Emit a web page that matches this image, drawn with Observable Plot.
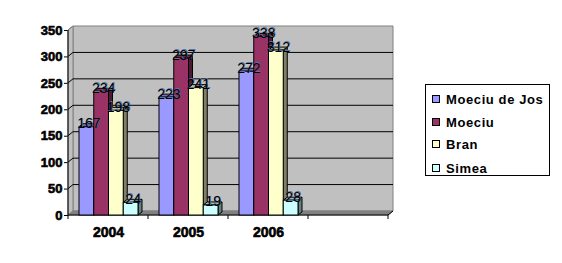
<!DOCTYPE html>
<html><head><meta charset="utf-8">
<script src="https://cdn.jsdelivr.net/npm/d3@7"></script>
<script src="https://cdn.jsdelivr.net/npm/@observablehq/plot@0.6"></script>
<style>
body{margin:0;background:#fff;}
#wrap{position:relative;width:562px;height:263px;font-family:Arial,"Liberation Sans",sans-serif;}
#wrap svg{position:absolute;left:0;top:0;}
#legend{position:absolute;left:425px;top:84px;width:123px;height:90px;border:1px solid #000;background:#fff;}
.item{position:absolute;left:6px;height:16px;display:flex;align-items:center;font-weight:bold;font-size:13px;letter-spacing:0.6px;white-space:nowrap;}
.sw{width:6px;height:6px;border:1px solid #000;margin-right:6px;}
</style></head><body><div id="wrap"></div>
<script>
const years = ["2004", "2005", "2006", ""];
const series = ["Moeciu de Jos", "Moeciu", "Bran", "Simea"];
const moeciuDeJos = [167, 223, 272];
const moeciu = [234, 297, 338];
const bran = [198, 241, 312];
const simea = [24, 19, 28];
const yTicks = [0, 50, 100, 150, 200, 250, 300, 350];
const frontColors = ["#9999FF", "#993366", "#FFFFCC", "#CCFFFF"];
const sideColors = ["#4D4D80", "#4D1A33", "#808066", "#668080"];
const topColors = ["#7373BF", "#732648", "#BFBF99", "#99BFBF"];

const seriesValues = [moeciuDeJos, moeciu, bran, simea];
const data = series.flatMap((s, i) => seriesValues[i].map((v, j) => ({year: years[j], series: s, si: i, value: v})));

const W = 562, H = 263, ML = 68, MR = 174, MT = 30, MB = 48;
const BW = (W - ML - MR) / years.length;
const BAR_IN = 11, BAR_W = 14.75, DX = 4, DY = 3, WX = 5, WY = 4;

function poly(g, pts, fill, stroke) {
  g.append("polygon").attr("points", pts.map(p => p.join(",")).join(" "))
    .attr("fill", fill).attr("stroke", stroke || "none").attr("stroke-width", 1);
}
function line(g, x1, y1, x2, y2, stroke) {
  g.append("line").attr("x1", x1).attr("y1", y1).attr("x2", x2).attr("y2", y2)
    .attr("stroke", stroke).attr("stroke-width", 1);
}

// 3D walls, floor, gridlines and category boundary ticks, positioned with Plot's scales
function walls(index, scales) {
  const g = d3.create("svg:g");
  const x0 = scales.x(years[0]);
  const bw = scales.x(years[1]) - scales.x(years[0]);
  const x1 = scales.x(years[years.length - 1]) + bw;
  const y0 = scales.y(0), yt = scales.y(yTicks[yTicks.length - 1]);
  poly(g, [[x0 + WX, yt - WY], [x1 + WX, yt - WY], [x1 + WX, y0 - WY], [x0 + WX, y0 - WY]], "#C0C0C0", "#808080");
  poly(g, [[x0, yt], [x0 + WX, yt - WY], [x0 + WX, y0 - WY], [x0, y0]], "#C0C0C0", "#808080");
  poly(g, [[x0, y0], [x0 + WX, y0 - WY], [x1 + WX, y0 - WY], [x1, y0]], "#808080", "#808080");
  for (const t of yTicks) {
    if (t === 0 || t === yTicks[yTicks.length - 1]) continue;
    const y = scales.y(t);
    line(g, x0 + WX, y - WY, x1 + WX, y - WY, "#000");
    line(g, x0, y, x0 + WX, y - WY, "#000");
  }
  line(g, x0, yt, x0 + WX, yt - WY, "#808080");
  line(g, x0, y0 + 0.5, x0, yt, "#000");
  line(g, x0, y0, x1, y0, "#000");
  line(g, x1, y0, x1 + WX, y0 - WY, "#000");
  for (let j = 0; j <= years.length; j++) {
    const x = j < years.length ? scales.x(years[j]) : x1;
    line(g, x, y0, x, y0 + 4, "#000");
  }
  return g.node();
}

// side and top faces of the 3D bars
function barDepth(index, scales) {
  const g = d3.create("svg:g");
  const y0 = scales.y(0);
  for (const d of data) {
    const xa = scales.x(d.year) + BAR_IN + d.si * BAR_W;
    const xb = xa + BAR_W;
    const y = scales.y(d.value);
    poly(g, [[xb, y], [xb + DX, y - DY], [xb + DX, y0 - DY], [xb, y0]], sideColors[d.si], "#000");
    poly(g, [[xa, y], [xa + DX, y - DY], [xb + DX, y - DY], [xb, y]], topColors[d.si], "#000");
  }
  return g.node();
}

const fronts = series.map((s, i) => Plot.barY(data.filter(d => d.si === i), {
  x: "year", y: "value", fill: frontColors[i], stroke: "#000", strokeWidth: 1,
  insetLeft: BAR_IN + i * BAR_W, insetRight: BW - BAR_IN - (i + 1) * BAR_W
}));
const labelDx = i => BAR_IN + i * BAR_W + BAR_W / 2 - BW / 2 + 2;
const labelShadows = series.map((s, i) => Plot.text(data.filter(d => d.si === i), {
  x: "year", y: "value", text: d => String(d.value),
  dx: labelDx(i) + 0.7, dy: 0.3,
  lineAnchor: "bottom", fill: "#5577AA", fontSize: 14, fontWeight: "normal"
}));
const labels = series.map((s, i) => Plot.text(data.filter(d => d.si === i), {
  x: "year", y: "value", text: d => String(d.value),
  dx: labelDx(i), dy: 1,
  lineAnchor: "bottom", fill: "#000", fontSize: 14, fontWeight: "normal"
}));

const chart = Plot.plot({
  width: W, height: H,
  marginLeft: ML, marginRight: MR, marginTop: MT, marginBottom: MB,
  style: {fontFamily: "Arial, 'Liberation Sans', sans-serif", fontSize: "13px", fontWeight: "bold", background: "transparent", color: "#000", overflow: "visible"},
  x: {domain: years, padding: 0, tickSize: 0, tickPadding: 12, label: null},
  y: {domain: [0, 350], ticks: yTicks, tickSize: 4, tickPadding: 2, label: null},
  marks: [walls, barDepth, ...fronts, ...labelShadows, ...labels]
});
chart.querySelectorAll('[aria-label^="x-axis"] text').forEach(t => {
  t.setAttribute("font-size", "14px");
  t.setAttribute("stroke", "#000");
  t.setAttribute("stroke-width", "0.6");
});
chart.querySelectorAll('[aria-label^="y-axis"] text').forEach(t => {
  t.setAttribute("stroke", "#000");
  t.setAttribute("stroke-width", "0.6");
});
const wrap = document.getElementById("wrap");
wrap.appendChild(chart);

const legend = document.createElement("div");
legend.id = "legend";
const itemTops = [6, 29, 51, 75];
series.forEach((s, i) => {
  const it = document.createElement("div");
  it.className = "item";
  it.style.top = itemTops[i] + "px";
  const sw = document.createElement("span");
  sw.className = "sw";
  sw.style.background = frontColors[i];
  it.appendChild(sw);
  it.appendChild(document.createTextNode(s));
  legend.appendChild(it);
});
wrap.appendChild(legend);
</script></body></html>
